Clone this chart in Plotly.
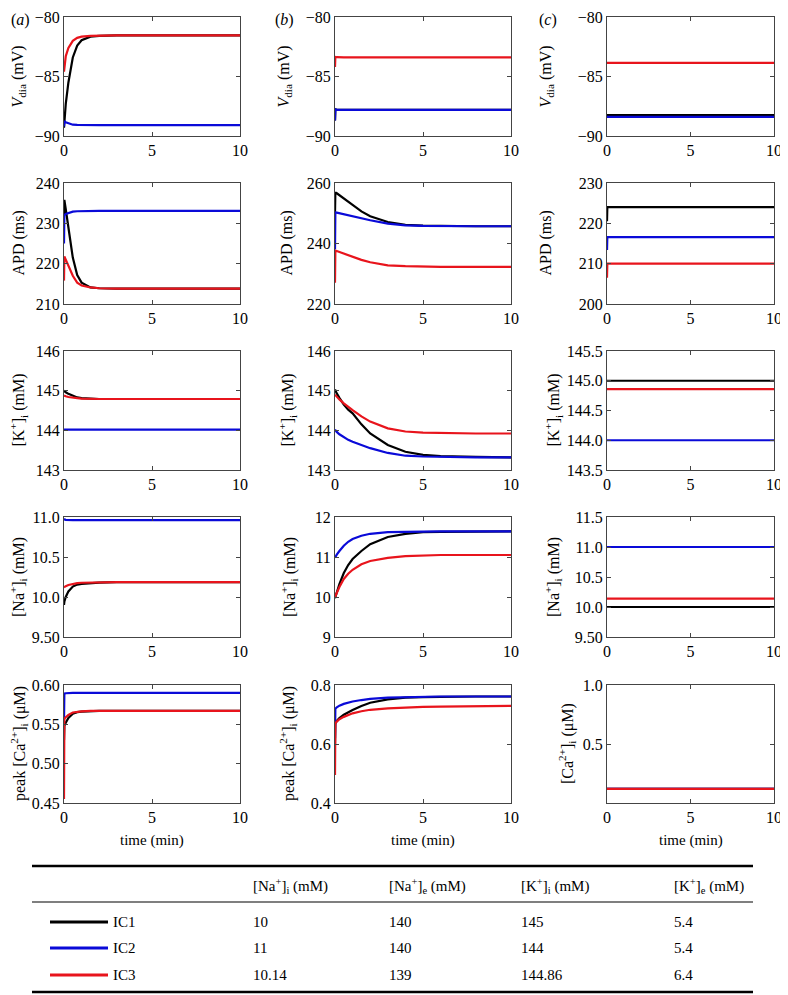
import plotly.graph_objects as go

# ---------------- data ----------------
time_min = [0, 0.02, 0.1, 0.25, 0.5, 0.75, 1, 1.5, 2, 3, 4, 5, 6, 8, 10]

# column (a)
a_vdia_ic1 = [-89.3, -88.8, -87.3, -85.5, -83.4, -82.4, -81.95, -81.65, -81.58, -81.55, -81.55, -81.55, -81.55, -81.55, -81.55]
a_vdia_ic2 = [-89.2, -88.75, -88.85, -88.95, -89.05, -89.07, -89.08, -89.08, -89.08, -89.08, -89.08, -89.08, -89.08, -89.08, -89.08]
a_vdia_ic3 = [-84.6, -84.2, -83.3, -82.6, -82.0, -81.75, -81.65, -81.58, -81.56, -81.55, -81.55, -81.55, -81.55, -81.55, -81.55]

a_apd_ic1 = [232.0, 235.8, 233.5, 228.5, 221.5, 217.2, 215.3, 214.1, 213.9, 213.8, 213.8, 213.8, 213.8, 213.8, 213.8]
a_apd_ic2 = [225.0, 232.0, 232.3, 232.6, 232.9, 233.0, 233.05, 233.1, 233.1, 233.1, 233.1, 233.1, 233.1, 233.1, 233.1]
a_apd_ic3 = [215.8, 221.8, 221.0, 219.6, 217.0, 215.3, 214.6, 214.1, 213.9, 213.8, 213.8, 213.8, 213.8, 213.8, 213.8]

a_ki_ic1 = [145.0, 144.99, 144.96, 144.92, 144.87, 144.83, 144.81, 144.8, 144.79, 144.79, 144.79, 144.79, 144.79, 144.79, 144.79]
a_ki_ic2 = [144.02, 144.02, 144.02, 144.02, 144.02, 144.02, 144.02, 144.02, 144.02, 144.02, 144.02, 144.02, 144.02, 144.02, 144.02]
a_ki_ic3 = [144.88, 144.875, 144.86, 144.84, 144.82, 144.81, 144.8, 144.79, 144.79, 144.79, 144.79, 144.79, 144.79, 144.79, 144.79]

a_nai_ic1 = [9.9, 9.94, 10.0, 10.07, 10.13, 10.155, 10.165, 10.175, 10.18, 10.185, 10.185, 10.185, 10.185, 10.185, 10.185]
a_nai_ic2 = [10.98, 10.97, 10.965, 10.96, 10.96, 10.96, 10.96, 10.96, 10.96, 10.96, 10.96, 10.96, 10.96, 10.96, 10.96]
a_nai_ic3 = [10.12, 10.125, 10.135, 10.15, 10.165, 10.173, 10.178, 10.182, 10.184, 10.185, 10.185, 10.185, 10.185, 10.185, 10.185]

a_ca_ic1 = [0.53, 0.548, 0.552, 0.558, 0.5635, 0.5655, 0.5662, 0.567, 0.567, 0.567, 0.567, 0.567, 0.567, 0.567, 0.567]
a_ca_ic2 = [0.555, 0.589, 0.5895, 0.59, 0.59, 0.59, 0.59, 0.59, 0.59, 0.59, 0.59, 0.59, 0.59, 0.59, 0.59]
a_ca_ic3 = [0.455, 0.557, 0.559, 0.562, 0.565, 0.566, 0.5665, 0.567, 0.567, 0.567, 0.567, 0.567, 0.567, 0.567, 0.567]

# column (b)
b_vdia_ic1 = [-88.7, -87.75, -87.8, -87.8, -87.8, -87.8, -87.8, -87.8, -87.8, -87.8, -87.8, -87.8, -87.8, -87.8, -87.8]
b_vdia_ic2 = [-88.7, -87.75, -87.8, -87.8, -87.8, -87.8, -87.8, -87.8, -87.8, -87.8, -87.8, -87.8, -87.8, -87.8, -87.8]
b_vdia_ic3 = [-84.2, -83.35, -83.38, -83.4, -83.4, -83.4, -83.4, -83.4, -83.4, -83.4, -83.4, -83.4, -83.4, -83.4, -83.4]

b_apd_ic1 = [250.0, 256.9, 256.6, 256.0, 255.0, 253.9, 252.8, 250.6, 249.0, 247.1, 246.2, 245.9, 245.8, 245.7, 245.7]
b_apd_ic2 = [238.0, 250.3, 250.2, 250.0, 249.7, 249.4, 249.0, 248.3, 247.7, 246.6, 246.0, 245.8, 245.7, 245.7, 245.7]
b_apd_ic3 = [227.0, 237.6, 237.5, 237.2, 236.6, 236.0, 235.5, 234.6, 233.8, 232.8, 232.5, 232.35, 232.3, 232.25, 232.25]

b_ki_ic1 = [145.03, 145.0, 144.93, 144.82, 144.65, 144.52, 144.43, 144.15, 143.92, 143.63, 143.46, 143.38, 143.35, 143.33, 143.32]
b_ki_ic2 = [144.02, 144.0, 143.96, 143.9, 143.82, 143.76, 143.71, 143.62, 143.55, 143.43, 143.36, 143.34, 143.33, 143.32, 143.32]
b_ki_ic3 = [144.9, 144.89, 144.85, 144.78, 144.68, 144.59, 144.51, 144.35, 144.22, 144.05, 143.97, 143.94, 143.93, 143.92, 143.92]

b_nai_ic1 = [9.97, 10.0, 10.12, 10.32, 10.6, 10.8, 10.95, 11.15, 11.32, 11.5, 11.58, 11.62, 11.63, 11.64, 11.64]
b_nai_ic2 = [10.98, 11.0, 11.06, 11.15, 11.28, 11.38, 11.45, 11.53, 11.58, 11.62, 11.63, 11.64, 11.64, 11.64, 11.64]
b_nai_ic3 = [10.0, 10.02, 10.1, 10.25, 10.45, 10.58, 10.68, 10.82, 10.9, 10.98, 11.02, 11.04, 11.05, 11.05, 11.05]

b_ca_ic1 = [0.6, 0.67, 0.678, 0.688, 0.699, 0.708, 0.715, 0.729, 0.74, 0.751, 0.757, 0.759, 0.76, 0.761, 0.761]
b_ca_ic2 = [0.62, 0.72, 0.724, 0.73, 0.736, 0.74, 0.744, 0.749, 0.753, 0.757, 0.759, 0.76, 0.761, 0.761, 0.761]
b_ca_ic3 = [0.495, 0.67, 0.676, 0.684, 0.692, 0.699, 0.704, 0.711, 0.716, 0.721, 0.724, 0.726, 0.727, 0.728, 0.729]

# column (c)
c_vdia_ic1 = [-88.25] * 15
c_vdia_ic2 = [-88.4] * 15
c_vdia_ic3 = [-83.85] * 15

c_apd_ic1 = [220.5] + [224.0] * 14
c_apd_ic2 = [213.4] + [216.6] * 14
c_apd_ic3 = [206.5] + [210.0] * 14

c_ki_ic1 = [145.0] * 15
c_ki_ic2 = [144.0] * 15
c_ki_ic3 = [144.86] * 15

c_nai_ic1 = [10.0] * 15
c_nai_ic2 = [11.0] * 15
c_nai_ic3 = [10.14] * 15

c_ca_ic1 = [0.12] * 15
c_ca_ic2 = [0.12] * 15
c_ca_ic3 = [0.12] * 15

# tick labels
x_ticks = [0, 5, 10]
yt_vdia = [-90, -85, -80]
yt_a_apd = [210, 220, 230, 240]
yt_ki = [143, 144, 145, 146]
yt_a_nai = [9.5, 10.0, 10.5, 11.0]
yt_a_nai_text = ["9.50", "10.0", "10.5", "11.0"]
yt_a_ca = [0.45, 0.50, 0.55, 0.60]
yt_a_ca_text = ["0.45", "0.50", "0.55", "0.60"]
yt_b_apd = [220, 240, 260]
yt_b_nai = [9, 10, 11, 12]
yt_b_ca = [0.4, 0.6, 0.8]
yt_b_ca_text = ["0.4", "0.6", "0.8"]
yt_c_apd = [200, 210, 220, 230]
yt_c_ki = [143.5, 144.0, 144.5, 145.0, 145.5]
yt_c_ki_text = ["143.5", "144.0", "144.5", "145.0", "145.5"]
yt_c_nai = [9.5, 10.0, 10.5, 11.0, 11.5]
yt_c_nai_text = ["9.50", "10.0", "10.5", "11.0", "11.5"]
yt_c_ca = [0.5, 1.0]
yt_c_ca_text = ["0.5", "1.0"]

# table
conditions = ["IC1", "IC2", "IC3"]
table_headers = ["[Na<sup>+</sup>]<sub>i</sub> (mM)", "[Na<sup>+</sup>]<sub>e</sub> (mM)",
                 "[K<sup>+</sup>]<sub>i</sub> (mM)", "[K<sup>+</sup>]<sub>e</sub> (mM)"]
na_i = ["10", "11", "10.14"]
na_e = ["140", "140", "139"]
k_i = ["145", "144", "144.86"]
k_e = ["5.4", "5.4", "6.4"]

# ---------------- layout helpers ----------------
# the page body has an 8px margin, so the figure is 8px smaller and all
# target pixel positions are shifted by that offset
OFF = 8
W, H = 788 - OFF, 995 - OFF
FONT = "Liberation Serif"
colors = ["#000000", "#0a0ad8", "#e8141c"]


def px(x):
    return (x - OFF) / W


def py(y):
    return 1 - (y - OFF) / H


col_px = [(64, 240), (335, 511), (607, 774)]
row_px = [(17, 136), (183, 304), (351, 470), (517, 637), (685, 803)]

panels = [
    # (col, row, series, yrange, tickvals, ticktext, title)
    (0, 0, [a_vdia_ic1, a_vdia_ic2, a_vdia_ic3], [-90, -80], yt_vdia, None, "<i>V</i><sub>dia</sub> (mV)"),
    (0, 1, [a_apd_ic1, a_apd_ic2, a_apd_ic3], [210, 240], yt_a_apd, None, "APD (ms)"),
    (0, 2, [a_ki_ic1, a_ki_ic2, a_ki_ic3], [143, 146], yt_ki, None, "[K<sup>+</sup>]<sub>i</sub> (mM)"),
    (0, 3, [a_nai_ic1, a_nai_ic2, a_nai_ic3], [9.5, 11.0], yt_a_nai, yt_a_nai_text, "[Na<sup>+</sup>]<sub>i</sub> (mM)"),
    (0, 4, [a_ca_ic1, a_ca_ic2, a_ca_ic3], [0.45, 0.60], yt_a_ca, yt_a_ca_text, "peak [Ca<sup>2+</sup>]<sub>i</sub> (μM)"),
    (1, 0, [b_vdia_ic1, b_vdia_ic2, b_vdia_ic3], [-90, -80], yt_vdia, None, "<i>V</i><sub>dia</sub> (mV)"),
    (1, 1, [b_apd_ic1, b_apd_ic2, b_apd_ic3], [220, 260], yt_b_apd, None, "APD (ms)"),
    (1, 2, [b_ki_ic1, b_ki_ic2, b_ki_ic3], [143, 146], yt_ki, None, "[K<sup>+</sup>]<sub>i</sub> (mM)"),
    (1, 3, [b_nai_ic1, b_nai_ic2, b_nai_ic3], [9, 12], yt_b_nai, None, "[Na<sup>+</sup>]<sub>i</sub> (mM)"),
    (1, 4, [b_ca_ic1, b_ca_ic2, b_ca_ic3], [0.4, 0.8], yt_b_ca, yt_b_ca_text, "peak [Ca<sup>2+</sup>]<sub>i</sub> (μM)"),
    (2, 0, [c_vdia_ic1, c_vdia_ic2, c_vdia_ic3], [-90, -80], yt_vdia, None, "<i>V</i><sub>dia</sub> (mV)"),
    (2, 1, [c_apd_ic1, c_apd_ic2, c_apd_ic3], [200, 230], yt_c_apd, None, "APD (ms)"),
    (2, 2, [c_ki_ic1, c_ki_ic2, c_ki_ic3], [143.5, 145.5], yt_c_ki, yt_c_ki_text, "[K<sup>+</sup>]<sub>i</sub> (mM)"),
    (2, 3, [c_nai_ic1, c_nai_ic2, c_nai_ic3], [9.5, 11.5], yt_c_nai, yt_c_nai_text, "[Na<sup>+</sup>]<sub>i</sub> (mM)"),
    (2, 4, [c_ca_ic1, c_ca_ic2, c_ca_ic3], [0, 1], yt_c_ca, yt_c_ca_text, "[Ca<sup>2+</sup>]<sub>i</sub> (μM)"),
]

# y-title centre x positions (px) per column/row
ytitle_x = [[18, 18, 18, 18, 19], [284, 286, 287, 289, 288], [546, 545, 553, 553, 567]]

fig = go.Figure()
layout = {}
annotations = []
axis_common = dict(showline=True, linecolor="#444", linewidth=1, mirror="ticks",
                   ticks="inside", ticklen=4, tickcolor="#444", showgrid=False,
                   zeroline=False, fixedrange=True, automargin=False,
                   tickfont=dict(family=FONT, size=16, color="black"))

for i, (c, r, series, yr, tv, tt, title) in enumerate(panels):
    n = i + 1
    xs = "" if n == 1 else str(n)
    x0, x1 = col_px[c]
    y0, y1 = row_px[r]
    for s, col in zip(series, colors):
        fig.add_trace(go.Scatter(x=time_min, y=s, mode="lines",
                                 line=dict(color=col, width=2.2),
                                 xaxis="x" + xs, yaxis="y" + xs,
                                 showlegend=False, hoverinfo="skip"))
    layout["xaxis" + xs] = dict(axis_common, domain=[px(x0), px(x1)], range=[0, 10],
                                tickvals=x_ticks, anchor="y" + xs)
    ydict = dict(axis_common, domain=[py(y1), py(y0)], range=yr, tickvals=tv, anchor="x" + xs)
    if tt is not None:
        ydict["ticktext"] = tt
    layout["yaxis" + xs] = ydict
    annotations.append(dict(text=title, xref="paper", yref="paper",
                            x=px(ytitle_x[c][r]), y=py((y0 + y1) / 2),
                            textangle=-90, showarrow=False, xanchor="center", yanchor="middle",
                            font=dict(family=FONT, size=16, color="black")))

# panel letters
for letter, xl in zip(["a", "b", "c"], [9, 273, 537]):
    annotations.append(dict(text="(<i>%s</i>)" % letter, xref="paper", yref="paper",
                            x=px(xl), y=py(9), showarrow=False, xanchor="left", yanchor="top",
                            font=dict(family=FONT, size=16, color="black")))

# time labels
for (x0, x1) in col_px:
    annotations.append(dict(text="time (min)", xref="paper", yref="paper",
                            x=px((x0 + x1) / 2), y=py(840), showarrow=False,
                            xanchor="center", yanchor="middle",
                            font=dict(family=FONT, size=15, color="black")))

# table
shapes = []
tbl_x0, tbl_x1 = 32, 753
for yline, w in [(866, 2.5), (902, 1.2), (992, 2.5)]:
    shapes.append(dict(type="line", xref="paper", yref="paper",
                       x0=px(tbl_x0), x1=px(tbl_x1), y0=py(yline), y1=py(yline),
                       line=dict(color="black", width=w)))
col_x = [251, 387, 519, 672]
for hx, htxt in zip(col_x, table_headers):
    annotations.append(dict(text=htxt, xref="paper", yref="paper", x=px(hx), y=py(886),
                            showarrow=False, xanchor="left", yanchor="middle",
                            font=dict(family=FONT, size=15, color="black")))
row_y = [922, 948, 975]
for k in range(3):
    yk = row_y[k]
    shapes.append(dict(type="line", xref="paper", yref="paper",
                       x0=px(50), x1=px(108), y0=py(yk), y1=py(yk),
                       line=dict(color=colors[k], width=3)))
    vals = [conditions[k], na_i[k], na_e[k], k_i[k], k_e[k]]
    for xx, v in zip([111] + col_x, vals):
        annotations.append(dict(text=v, xref="paper", yref="paper", x=px(xx), y=py(yk),
                                showarrow=False, xanchor="left", yanchor="middle",
                                font=dict(family=FONT, size=15, color="black")))

fig.update_layout(width=W, height=H, margin=dict(l=0, r=0, t=0, b=0, autoexpand=False),
                  paper_bgcolor="white", plot_bgcolor="white",
                  font=dict(family=FONT),
                  annotations=annotations, shapes=shapes, **layout)

fig.write_html("out.html")
